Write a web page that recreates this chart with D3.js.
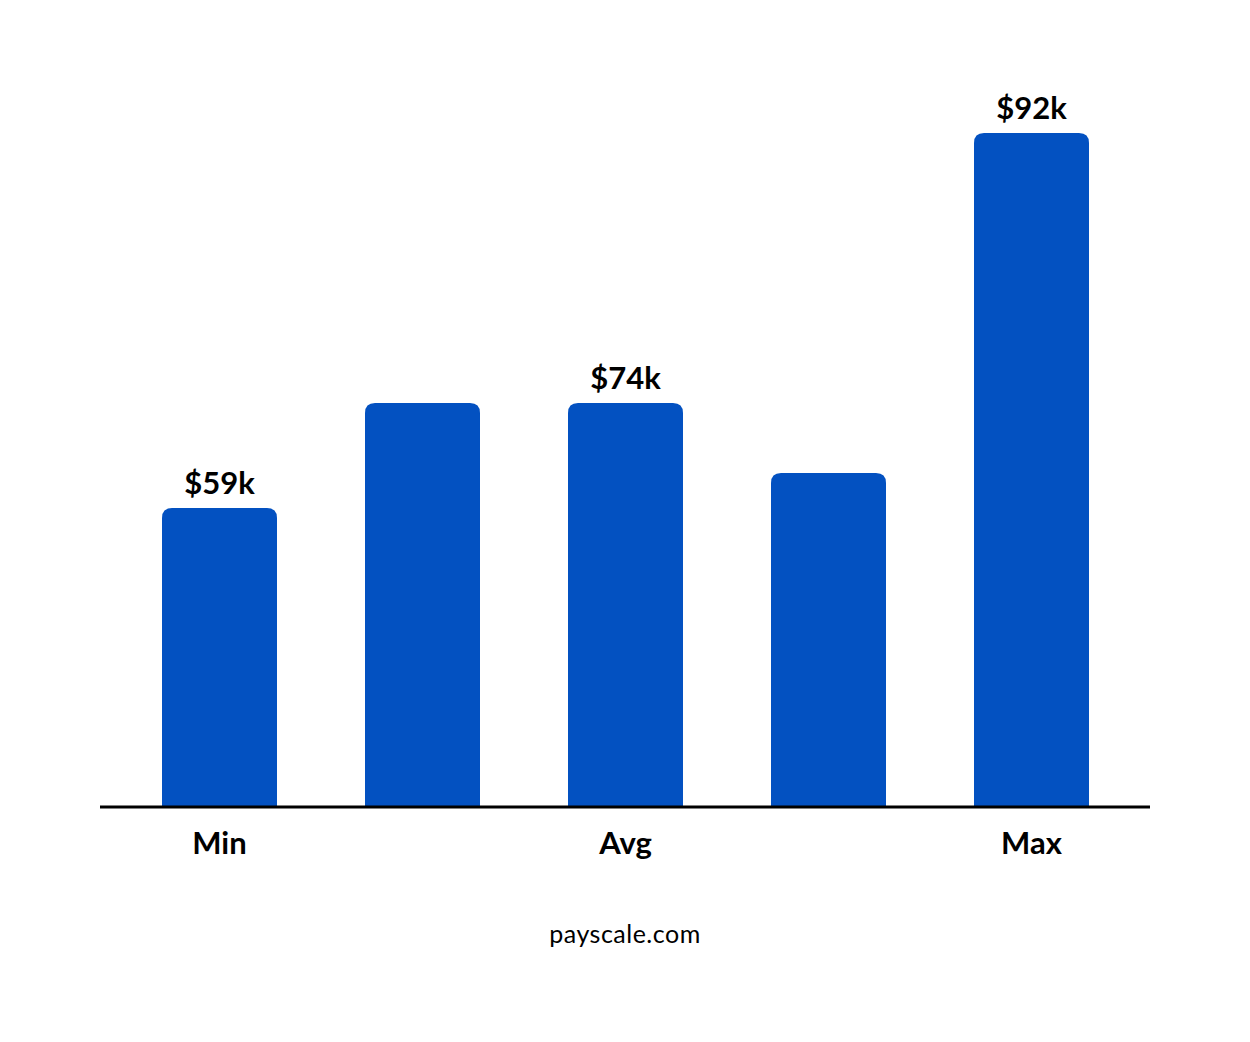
<!DOCTYPE html>
<html lang="en">
<head>
<meta charset="UTF-8">
<title>Salary</title>
<style>body{margin:0;background:#fff}</style>
</head>
<body>
<script src="https://cdn.jsdelivr.net/npm/d3@7"></script>
<script>
var bars = [0, 1, 2, 3, 4];
var values = [59, 74, 74, 64, 92];
var valueLabels = ["$59k", "", "$74k", "", "$92k"];
var axisLabels = ["Min", "", "Avg", "", "Max"];

var width = 1250, height = 1042;
var base = 807, barW = 115, r = 10;

var svg = d3.select('body').append('svg').attr('width', width).attr('height', height);

var x = d3.scalePoint().domain(bars).range([219.5, 1031.5]);
// chart isn't drawn to a zero-based scale, so map through the labelled values
var y = d3.scaleLinear().domain([0, 59, 74, 92]).range([base, 508, 403, 133]);

function topRounded(cx, top) {
    var l = cx - barW / 2, rr = l + barW;
    return 'M' + l + ',' + base + 'V' + (top + r) + 'Q' + l + ',' + top + ' ' + (l + r) + ',' + top +
        'H' + (rr - r) + 'Q' + rr + ',' + top + ' ' + rr + ',' + (top + r) + 'V' + base + 'Z';
}

svg.selectAll('path.bar').data(bars).enter().append('path')
    .attr('class', 'bar')
    .attr('fill', '#0351c1')
    .attr('d', function (i) { return topRounded(x(i), y(values[i])); });

svg.append('line').attr('x1', 100).attr('x2', 1150).attr('y1', base).attr('y2', base)
    .attr('stroke', '#000').attr('stroke-width', 3);

svg.selectAll('text.val').data(bars).enter().append('text')
    .attr('x', function (i) { return x(i); })
    .attr('y', function (i) { return y(values[i]) - 14; })
    .attr('text-anchor', 'middle')
    .style('font-family', 'Lato, sans-serif').style('font-weight', 'bold').style('font-size', '31px')
    .text(function (i) { return valueLabels[i]; });

svg.selectAll('text.cat').data(bars).enter().append('text')
    .attr('x', function (i) { return x(i); })
    .attr('y', 854)
    .attr('text-anchor', 'middle')
    .style('font-family', 'Lato, sans-serif').style('font-weight', 'bold').style('font-size', '31px')
    .text(function (i) { return axisLabels[i]; });

svg.append('text').attr('x', 625).attr('y', 943).attr('text-anchor', 'middle')
    .style('font-family', 'Lato, sans-serif').style('font-size', '25px').style('letter-spacing', '0.5px')
    .text('payscale.com');
</script>
</body>
</html>
